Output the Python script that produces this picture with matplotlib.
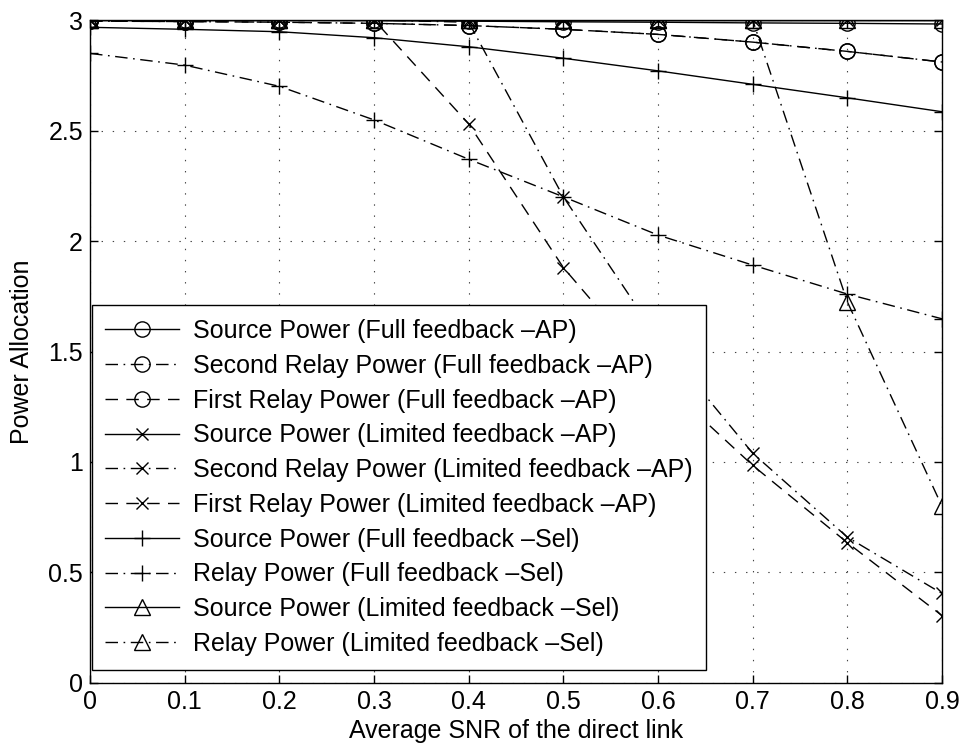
import numpy as np
import matplotlib.pyplot as plt

plt.rcParams['font.family'] = ['Liberation Sans', 'DejaVu Sans']
plt.rcParams['lines.scale_dashes'] = False

# Average SNR of the direct link
snr = [0, 0.1, 0.2, 0.3, 0.4, 0.5, 0.6, 0.7, 0.8, 0.9]

# Full feedback - AP
src_full_ap = [3.0, 3.0, 3.0, 2.998, 2.995, 2.992, 2.99, 2.987, 2.985, 2.982]
relay2_full_ap = [2.995, 2.993, 2.99, 2.985, 2.975, 2.958, 2.935, 2.90, 2.858, 2.81]
relay1_full_ap = [2.995, 2.993, 2.99, 2.985, 2.975, 2.958, 2.935, 2.90, 2.858, 2.81]

# Limited feedback - AP
src_lim_ap = [3.0, 3.0, 3.0, 3.0, 3.0, 3.0, 3.0, 3.0, 3.0, 3.0]
relay2_lim_ap = [3.0, 3.0, 3.0, 3.0, 2.99, 2.20, 1.56, 1.04, 0.66, 0.405]
relay1_lim_ap = [3.0, 3.0, 3.0, 3.0, 2.53, 1.88, 1.38, 0.985, 0.635, 0.305]

# Full feedback - Sel
src_full_sel = [2.967, 2.958, 2.947, 2.92, 2.879, 2.827, 2.77, 2.709, 2.648, 2.585]
relay_full_sel = [2.849, 2.796, 2.70, 2.548, 2.37, 2.20, 2.027, 1.891, 1.76, 1.648]

# Limited feedback - Sel
src_lim_sel = [3.0, 3.0, 3.0, 3.0, 3.0, 3.0, 3.0, 3.0, 3.0, 3.0]
relay_lim_sel = [3.0, 3.0, 3.0, 3.0, 3.0, 3.0, 3.0, 3.0, 1.725, 0.80]

solid = '-'
dash = (0, (9, 6))
dashdot = (0, (9, 4, 1.2, 4))
fs = 18

fig = plt.figure(figsize=(9.61, 7.47), dpi=100)
ax = fig.add_axes([0.0937, 0.0857, 0.8865, 0.8875])

kw = dict(color='black', lw=1.0, markerfacecolor='none', markeredgewidth=1.0)
ax.plot(snr, src_full_ap, linestyle=solid, marker='o', ms=11, label='Source Power (Full feedback \u2013AP)', **kw)
ax.plot(snr, relay2_full_ap, linestyle=dashdot, marker='o', ms=11, label='Second Relay Power (Full feedback \u2013AP)', **kw)
ax.plot(snr, relay1_full_ap, linestyle=dash, marker='o', ms=11, label='First Relay Power (Full feedback \u2013AP)', **kw)
ax.plot(snr, src_lim_ap, linestyle=solid, marker='x', ms=8.5, label='Source Power (Limited feedback \u2013AP)', **kw)
ax.plot(snr, relay2_lim_ap, linestyle=dashdot, marker='x', ms=8.5, label='Second Relay Power (Limited feedback \u2013AP)', **kw)
ax.plot(snr, relay1_lim_ap, linestyle=dash, marker='x', ms=8.5, label='First Relay Power (Limited feedback \u2013AP)', **kw)
ax.plot(snr, src_full_sel, linestyle=solid, marker='+', ms=11, label='Source Power (Full feedback \u2013Sel)', **kw)
ax.plot(snr, relay_full_sel, linestyle=dashdot, marker='+', ms=11, label='Relay Power (Full feedback \u2013Sel)', **kw)
ax.plot(snr, src_lim_sel, linestyle=solid, marker='^', ms=11, label='Source Power (Limited feedback \u2013Sel)', **kw)
ax.plot(snr, relay_lim_sel, linestyle=dashdot, marker='^', ms=11, label='Relay Power (Limited feedback \u2013Sel)', **kw)

ax.set_xlim(0, 0.9)
ax.set_ylim(0, 3)
ax.set_xticks(snr)
ax.set_xticklabels(['0', '0.1', '0.2', '0.3', '0.4', '0.5', '0.6', '0.7', '0.8', '0.9'])
ax.set_yticks([0, 0.5, 1, 1.5, 2, 2.5, 3])
ax.set_yticklabels(['0', '0.5', '1', '1.5', '2', '2.5', '3'])
ax.tick_params(direction='in', length=6, width=1, top=True, right=True, labelsize=fs, pad=5)
for s in ax.spines.values():
    s.set_linewidth(1.0)
ax.grid(True, color='#444444', linestyle=(0, (1, 7)), linewidth=0.8)

ax.set_xlabel('Average SNR of the direct link', fontsize=fs, labelpad=4)
ax.set_ylabel('Power Allocation', fontsize=fs, labelpad=10)

leg = ax.legend(loc='lower left', bbox_to_anchor=(0.002, 0.02), fontsize=fs,
                handlelength=2.95, labelspacing=0.43, borderaxespad=0, fancybox=False,
                framealpha=1, edgecolor='black', handletextpad=0.55, borderpad=0.55)
leg.get_frame().set_linewidth(1.0)

fig.savefig('out.png', dpi=100)
